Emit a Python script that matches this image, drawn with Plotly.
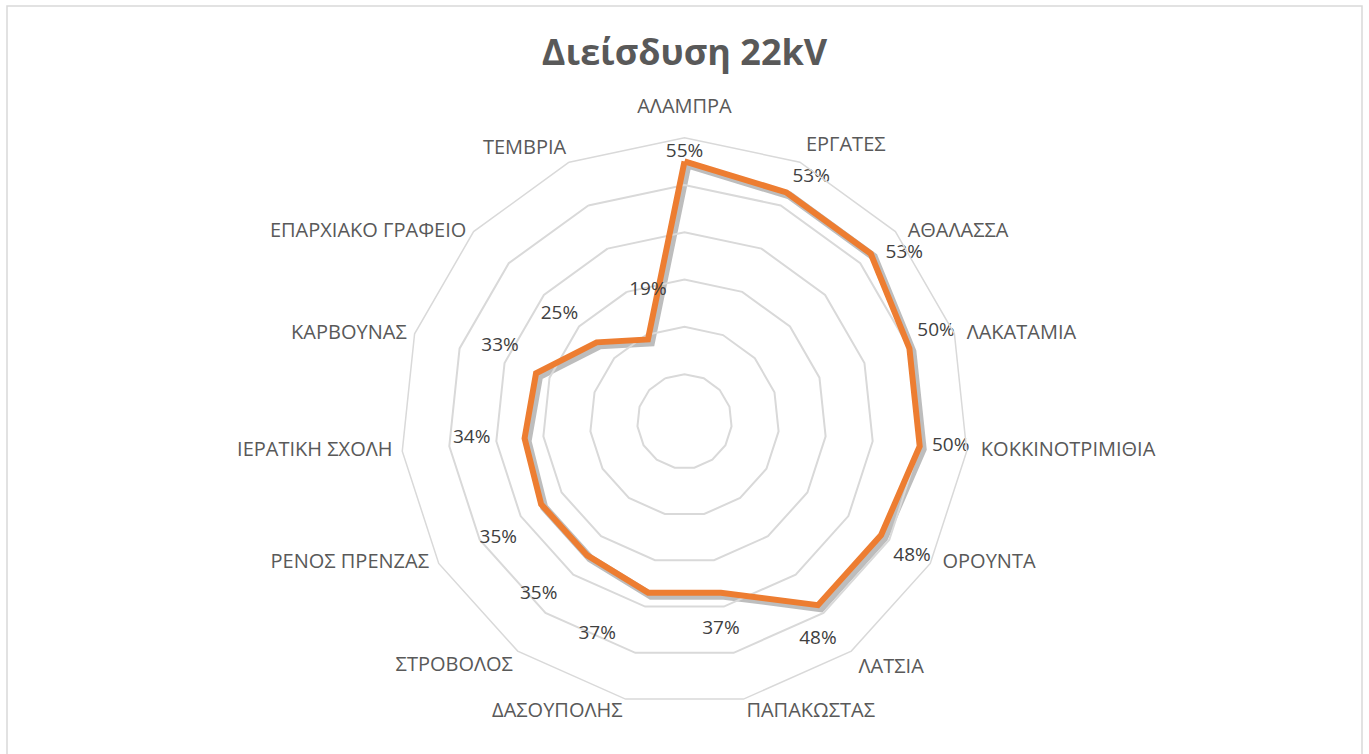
import plotly.graph_objects as go

# Our data
stations = ["ΑΛΑΜΠΡΑ", "ΕΡΓΑΤΕΣ", "ΑΘΑΛΑΣΣΑ", "ΛΑΚΑΤΑΜΙΑ", "ΚΟΚΚΙΝΟΤΡΙΜΙΘΙΑ",
            "ΟΡΟΥΝΤΑ", "ΛΑΤΣΙΑ", "ΠΑΠΑΚΩΣΤΑΣ", "ΔΑΣΟΥΠΟΛΗΣ", "ΣΤΡΟΒΟΛΟΣ",
            "ΡΕΝΟΣ ΠΡΕΝΖΑΣ", "ΙΕΡΑΤΙΚΗ ΣΧΟΛΗ", "ΚΑΡΒΟΥΝΑΣ", "ΕΠΑΡΧΙΑΚΟ ΓΡΑΦΕΙΟ", "ΤΕΜΒΡΙΑ"]
penetration = [0.55, 0.53, 0.53, 0.50, 0.50, 0.48, 0.48, 0.37, 0.37, 0.35,
               0.35, 0.34, 0.33, 0.25, 0.19]
grid_ticks = [0.1, 0.2, 0.3, 0.4, 0.5, 0.6]
r_max = 0.6

# data label placement (side of the point + spacing via invisible marker size)
label_pos = ["top center", "top right", "middle right", "top right", "middle right",
             "bottom right", "bottom center", "bottom center", "bottom left", "bottom left",
             "bottom left", "middle left", "top left", "top left", "top center"]
label_gap = [0, 8, 22, 11, 18, 18, 37, 42, 50, 46, 37, 53, 26, 28, 62]

# category label placement around the outer ring
cat_pos = ["top center", "top right", "middle right", "middle right", "middle right",
           "middle right", "bottom right", "bottom right", "bottom left", "bottom left",
           "middle left", "middle left", "middle left", "middle left", "top left"]
cat_gap = [30, 8, 18, 18, 21, 18, 10, 3, 3, 6, 14, 14, 11, 10, 3]

# close the polygon
r_closed = penetration + penetration[:1]
t_closed = stations + stations[:1]

font_fam = "Open Sans, Noto Sans, sans-serif"

fig = go.Figure()

# soft shadow under the line (same data, drawn on a slightly offset subplot)
fig.add_trace(go.Scatterpolar(r=r_closed, theta=t_closed, mode="lines",
                              line=dict(color="rgba(90,90,90,0.4)", width=8),
                              hoverinfo="skip", subplot="polar"))

# the orange series
fig.add_trace(go.Scatterpolar(r=r_closed, theta=t_closed, mode="lines",
                              line=dict(color="#ED7D31", width=6),
                              name="22kV", subplot="polar2"))

# data labels
fig.add_trace(go.Scatterpolar(r=penetration, theta=stations, mode="markers+text",
                              text=["{:.0%}".format(v) for v in penetration],
                              textposition=label_pos,
                              textfont=dict(family=font_fam, size=19, color="#404040"),
                              marker=dict(size=label_gap, opacity=0, line=dict(width=0)),
                              cliponaxis=False, hoverinfo="skip", subplot="polar2"))

# category labels, sitting just outside the outer ring
fig.add_trace(go.Scatterpolar(r=[r_max] * len(stations), theta=stations, mode="markers+text",
                              text=stations, textposition=cat_pos,
                              textfont=dict(family=font_fam, size=20, color="#595959"),
                              marker=dict(size=cat_gap, opacity=0, line=dict(width=0)),
                              cliponaxis=False, hoverinfo="skip", subplot="polar2"))

cx0, cx1 = 0.2927, 0.7073
cy0, cy1 = 0.0646, 0.8174
dx, dy = 3 / 1369, 3 / 754

radial = dict(range=[0, r_max], tickvals=grid_ticks, showticklabels=False,
              showline=False, ticks="", gridcolor="#d9d9d9", gridwidth=1.5)

fig.update_layout(
    width=1369, height=754,
    paper_bgcolor="white", plot_bgcolor="white",
    margin=dict(l=0, r=0, t=0, b=0),
    showlegend=False,
    title=dict(text="<b>Διείσδυση 22kV</b>", x=0.5, xanchor="center",
               y=0.93, yanchor="middle",
               font=dict(family=font_fam, size=36, color="#595959")),
    polar=dict(
        domain=dict(x=[cx0 + dx, cx1 + dx], y=[cy0 - dy, cy1 - dy]),
        bgcolor="rgba(0,0,0,0)",
        gridshape="linear",
        radialaxis=dict(radial, showgrid=False),
        angularaxis=dict(categoryarray=stations, direction="clockwise", rotation=90,
                         showgrid=False, showline=False, showticklabels=False, ticks=""),
    ),
    polar2=dict(
        domain=dict(x=[cx0, cx1], y=[cy0, cy1]),
        bgcolor="rgba(0,0,0,0)",
        gridshape="linear",
        radialaxis=radial,
        angularaxis=dict(categoryarray=stations, direction="clockwise", rotation=90,
                         showgrid=False, showline=True, linecolor="#d9d9d9", linewidth=1.5,
                         showticklabels=False, ticks=""),
    ),
    shapes=[dict(type="rect", xref="paper", yref="paper",
                 x0=7 / 1369, x1=1362 / 1369, y0=-0.01, y1=1 - 6 / 754,
                 line=dict(color="#d9d9d9", width=1.5))],
)

# drop the page's default body margin so the figure sits at the window's corner
fig.write_html("out.html", config={"displayModeBar": False},
               post_script="document.body.style.margin='0';")
